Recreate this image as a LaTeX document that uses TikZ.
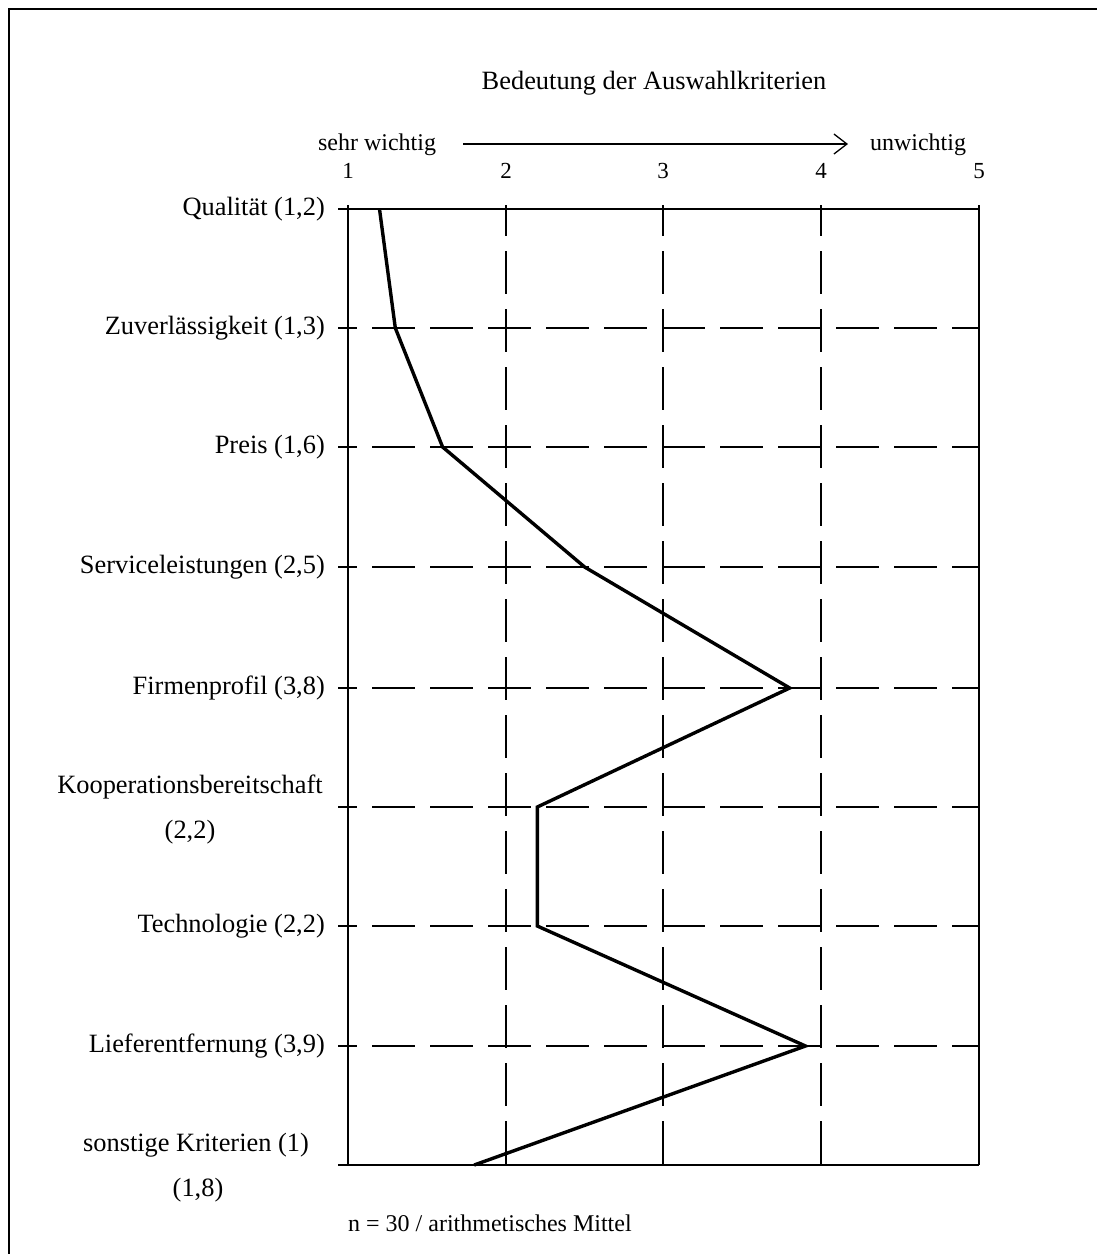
\documentclass[tikz,border=0pt]{standalone}
\usepackage{fontspec}
\setmainfont{Liberation Serif}
\usetikzlibrary{arrows.meta}
\begin{document}
\begin{tikzpicture}[x=1pt,y=-1pt,
  lbl/.style={font=\fontsize{26.4}{30}\selectfont, inner sep=0pt},
  small/.style={font=\fontsize{24}{27}\selectfont, inner sep=0pt},
  num/.style={font=\fontsize{23}{26}\selectfont, inner sep=0pt},
  solidgrid/.style={line width=1.3pt},
  hdash/.style={line width=1.3pt, dash pattern=on 43pt off 15pt, dash phase=24pt},
  vdash/.style={line width=1.3pt, dash pattern=on 43pt off 15pt, dash phase=12pt},
  dataline/.style={line width=3.4pt, line join=miter}]
\useasboundingbox (0,0) rectangle (1097,1254);
% frame
\draw[line width=2.5pt] (9,1254) -- (9,9) -- (1097,9);
% title
\node[lbl] (title) at (654,83) {Bedeutung der Auswahlkriterien};
% direction arrow
\node[small, anchor=base] (sw) at (377,150) {sehr wichtig};
\node[small, anchor=base] (uw) at (918,150) {unwichtig};
\coordinate (arrS) at (463,144);
\coordinate (arrE) at (848,144);
\draw[line width=1.3pt, -{Straight Barb[length=13pt,width=20pt,line width=1.3pt]}] (arrS) -- (arrE);
% axis numbers
\foreach \i/\xx in {1/348,2/506,3/663,4/821,5/979}{
  \node[num, anchor=base] (n\i) at (\xx,178) {\i};
}
% grid coordinates
\foreach \i/\xx in {1/348,2/506,3/663,4/821,5/979}{
  \coordinate (top\i) at (\xx,205);
  \coordinate (bot\i) at (\xx,1165);
}
% verticals
\draw[solidgrid] (top1) -- (bot1);
\draw[solidgrid] (top5) -- (bot5);
\foreach \i in {2,3,4}{ \draw[vdash] (top\i) -- (bot\i); }
% horizontals
\coordinate (hl0) at (338,209); \coordinate (hr0) at (979,209);
\draw[solidgrid] (hl0) -- (hr0);
\coordinate (hl9) at (338,1165); \coordinate (hr9) at (979,1165);
\draw[solidgrid] (hl9) -- (hr9);
\foreach \k/\yy in {1/328,2/447,3/567,4/688,5/807,6/926,7/1046}{
  \coordinate (hl\k) at (338,\yy);
  \coordinate (hr\k) at (979,\yy);
  \draw[hdash] (hl\k) -- (hr\k);
}
% labels
\node[lbl, anchor=east] (q) at (325,209) {Qualität (1,2)};
\node[lbl, anchor=east] (z) at (325,328) {Zuverlässigkeit (1,3)};
\node[lbl, anchor=east] (p) at (325,447) {Preis (1,6)};
\node[lbl, anchor=east] (s) at (325,567) {Serviceleistungen (2,5)};
\node[lbl, anchor=east] (f) at (325,688) {Firmenprofil (3,8)};
\node[lbl, anchor=base] (k1) at (190,793) {Kooperationsbereitschaft};
\node[lbl, anchor=base] (k2) at (190,838) {(2,2)};
\node[lbl, anchor=east] (t) at (325,926) {Technologie (2,2)};
\node[lbl, anchor=east] (l) at (325,1046) {Lieferentfernung (3,9)};
\node[lbl, anchor=base] (o1) at (196,1151) {sonstige Kriterien (1)};
\node[lbl, anchor=base] (o2) at (198,1196) {(1,8)};
\node[small, anchor=base west] (note) at (348,1231) {n = 30 / arithmetisches Mittel};
% data
\coordinate (d1) at (379.5,209);
\coordinate (d2) at (395.3,328);
\coordinate (d3) at (442.6,447);
\coordinate (d4) at (584.6,567);
\coordinate (d5) at (789.7,688);
\coordinate (d6) at (537.3,807);
\coordinate (d7) at (537.3,926);
\coordinate (d8) at (805.5,1046);
\coordinate (d9) at (474.2,1165);
\draw[dataline] (d1) -- (d2) -- (d3) -- (d4) -- (d5) -- (d6) -- (d7) -- (d8) -- (d9);
\end{tikzpicture}
\end{document}
